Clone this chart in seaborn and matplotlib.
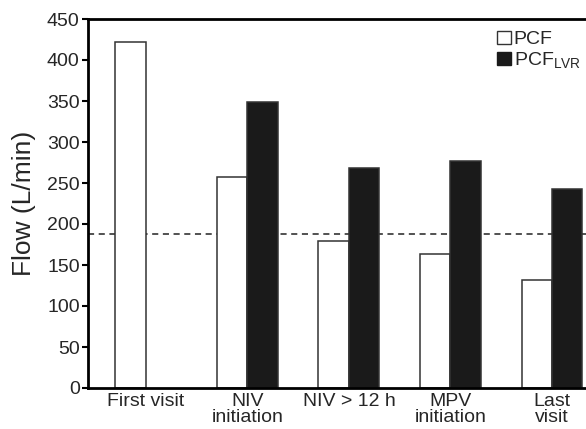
import numpy as np
import pandas as pd
import matplotlib
matplotlib.use('Agg')
import matplotlib.pyplot as plt
import seaborn as sns
from matplotlib.patches import Patch

# values
categories = ['First visit', 'NIV\ninitiation', 'NIV > 12 h', 'MPV\ninitiation', 'Last\nvisit']
pcf = [422, 257, 179, 163, 132]
pcf_lvr = [np.nan, 349, 268, 277, 243]
threshold = 188

df = pd.DataFrame({
    'cat': categories * 2,
    'flow': pcf + pcf_lvr,
    'series': ['PCF'] * 5 + ['PCF_LVR'] * 5,
})

sns.set_style('white')
plt.rcParams['font.family'] = ['Liberation Sans', 'DejaVu Sans']
plt.rcParams['mathtext.fontset'] = 'custom'
plt.rcParams['mathtext.rm'] = 'Liberation Sans'

fig = plt.figure(figsize=(5.86, 4.29), dpi=100)
ax = fig.add_axes([88 / 586, 1 - 388 / 429, 1 - 88 / 586 + 0.02, 369 / 429])

sns.barplot(data=df, x='cat', y='flow', hue='series', order=categories,
            palette={'PCF': 'white', 'PCF_LVR': '#1a1a1a'},
            width=0.6, gap=0, edgecolor='#333333', linewidth=1.1, ax=ax, legend=False)

# dashed reference line
ax.axhline(threshold, color='#222222', linestyle=(0, (4, 3)), linewidth=1.1, zorder=0)

ax.set_xlim(-0.57, 4.45)
ax.set_ylim(0, 450)
ax.set_yticks(range(0, 451, 50))
ax.set_xlabel('')
ax.set_ylabel('Flow (L/min)', fontsize=19, labelpad=8)
ax.tick_params(axis='y', labelsize=14, direction='out', length=4, width=1.5, left=True,
               color='black', pad=2)
ax.tick_params(axis='x', labelsize=14, bottom=False, pad=0)
for lbl in ax.get_xticklabels():
    lbl.set_linespacing(0.93)

for s in ['left', 'top', 'bottom']:
    ax.spines[s].set_linewidth(2)
    ax.spines[s].set_color('black')
ax.spines['right'].set_visible(False)

handles = [Patch(facecolor='white', edgecolor='#333333', label='PCF'),
           Patch(facecolor='#1a1a1a', edgecolor='#1a1a1a', label='PCF$_{\\mathregular{LVR}}$')]
ax.legend(handles=handles, loc='upper right', bbox_to_anchor=(0.99, 1.0), frameon=False,
          fontsize=14, handlelength=0.7, handleheight=0.7, handletextpad=0.15,
          labelspacing=0.1, borderaxespad=0.2)

fig.savefig('out.png', dpi=100)
